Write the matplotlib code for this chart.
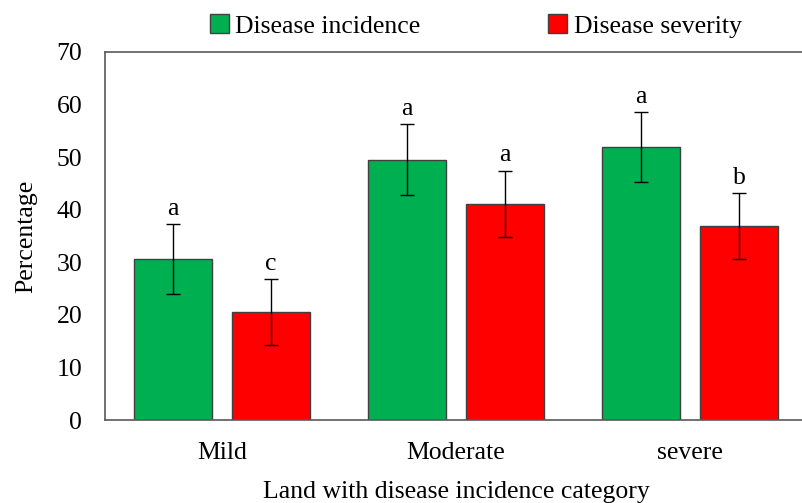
import matplotlib.pyplot as plt
import numpy as np

plt.rcParams['font.family'] = ['Liberation Serif', 'DejaVu Serif']

categories = ['Mild', 'Moderate', 'severe']
incidence = [30.6, 49.5, 51.9]
incidence_err = [6.7, 6.7, 6.7]
severity = [20.5, 41.1, 36.9]
severity_err = [6.3, 6.3, 6.3]
incidence_letters = ['a', 'a', 'a']
severity_letters = ['c', 'a', 'b']

fs = 18.5
fig = plt.figure(figsize=(8.02, 5.03), dpi=100)
ax = fig.add_axes([0.131, 0.165, 0.875, 0.732])

x = np.arange(len(categories))
w = 0.333
off = 0.21
edge = '#404040'
ax.bar(x - off, incidence, w, color='#00B050', edgecolor=edge, linewidth=1,
       label='Disease incidence')
ax.bar(x + off, severity, w, color='#FF0000', edgecolor=edge, linewidth=1,
       label='Disease severity')
ax.errorbar(x - off, incidence, yerr=incidence_err, fmt='none', ecolor='black',
            elinewidth=1, capsize=5, capthick=1)
ax.errorbar(x + off, severity, yerr=severity_err, fmt='none', ecolor='black',
            elinewidth=1, capsize=5, capthick=1)

for xi, v, e, t in zip(x - off, incidence, incidence_err, incidence_letters):
    ax.text(xi, v + e + 0.8, t, ha='center', va='bottom', fontsize=fs)
for xi, v, e, t in zip(x + off, severity, severity_err, severity_letters):
    ax.text(xi, v + e + 0.8, t, ha='center', va='bottom', fontsize=fs)

ax.set_xlim(-0.5, 2.5)
ax.set_ylim(0, 70)
ax.set_yticks(range(0, 71, 10))
ax.set_xticks(x)
ax.set_xticklabels(categories)
ax.tick_params(axis='x', length=0, labelsize=fs, pad=16)
ax.tick_params(axis='y', length=0, labelsize=fs, pad=16.5)
for s in ax.spines.values():
    s.set_color('#595959')
    s.set_linewidth(1.2)

ax.set_xlabel('Land with disease incidence category', fontsize=fs, labelpad=12)
ax.set_ylabel('Percentage', fontsize=fs, labelpad=14)

ax.legend(loc='lower center', bbox_to_anchor=(0.528, 1.01), ncol=2, frameon=False,
          fontsize=fs, handlelength=0.75, handleheight=0.75, handletextpad=0.25,
          columnspacing=4.95, borderaxespad=0)

fig.savefig('out.png', dpi=100)
